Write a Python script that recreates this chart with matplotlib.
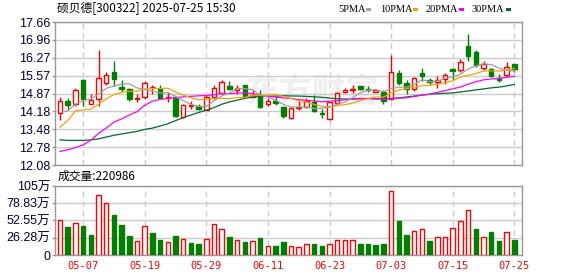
import numpy as np
import matplotlib
matplotlib.use("Agg")
import matplotlib.pyplot as plt
from matplotlib.patches import Rectangle

# ---------------- data ----------------
title = "硕贝德[300322] 2025-07-25 15:30"
dates = ["04-29", "04-30", "05-06", "05-07", "05-08", "05-09", "05-12", "05-13", "05-14", "05-15",
         "05-16", "05-19", "05-20", "05-21", "05-22", "05-23", "05-26", "05-27", "05-28", "05-29",
         "05-30", "06-03", "06-04", "06-05", "06-06", "06-09", "06-10", "06-11", "06-12", "06-13",
         "06-16", "06-17", "06-18", "06-19", "06-20", "06-23", "06-24", "06-25", "06-26", "06-27",
         "06-30", "07-01", "07-02", "07-03", "07-04", "07-07", "07-08", "07-09", "07-10", "07-11",
         "07-14", "07-15", "07-16", "07-17", "07-18", "07-21", "07-22", "07-23", "07-24", "07-25"]
label_dates = ["05-07", "05-19", "05-29", "06-11", "06-23", "07-03", "07-15", "07-25"]

opens = [14.11, 14.59, 14.46, 15.41, 14.45, 14.64, 15.29, 15.69, 15.12, 15.03,
         14.65, 14.72, 15.11, 15.03, 14.69, 14.75, 13.96, 14.37, 14.37, 14.23,
         14.74, 14.88, 15.15, 15.01, 15.22, 14.75, 14.81, 14.46, 14.59, 14.34,
         13.93, 14.30, 14.34, 14.53, 14.11, 13.89, 14.49, 14.94, 15.01, 15.15,
         15.06, 14.94, 14.94, 14.65, 15.67, 15.29, 15.03, 15.67, 15.38, 15.31,
         15.44, 15.82, 15.77, 16.74, 16.49, 15.86, 15.82, 15.49, 15.58, 16.02]
closes = [14.56, 14.44, 15.02, 14.65, 14.61, 15.48, 15.60, 15.45, 15.06, 14.65,
          14.69, 15.29, 15.13, 14.69, 14.73, 13.98, 14.42, 14.41, 14.27, 14.75,
          15.10, 15.32, 15.03, 15.10, 14.78, 14.83, 14.34, 14.59, 14.50, 13.98,
          14.31, 14.35, 14.59, 14.17, 14.06, 14.53, 14.88, 15.02, 15.05, 15.03,
          15.01, 15.00, 14.56, 15.71, 15.29, 15.03, 15.48, 15.54, 15.32, 15.40,
          15.58, 15.73, 16.09, 16.34, 15.98, 16.01, 15.57, 15.41, 15.92, 15.82]
highs = [14.75, 14.69, 15.10, 15.45, 14.84, 16.55, 15.72, 16.15, 15.41, 15.10,
         14.84, 15.35, 15.20, 15.20, 14.93, 14.75, 14.46, 14.59, 14.46, 14.81,
         15.22, 15.38, 15.35, 15.22, 15.22, 15.01, 15.00, 14.69, 14.78, 14.37,
         14.35, 14.59, 14.69, 14.81, 14.27, 14.55, 14.91, 15.10, 15.19, 15.16,
         15.16, 15.06, 15.01, 16.36, 15.79, 15.41, 15.51, 15.86, 15.48, 15.54,
         15.67, 15.88, 16.20, 17.19, 16.58, 16.14, 15.88, 15.63, 16.09, 16.02]
lows = [13.85, 14.23, 14.37, 14.37, 14.45, 14.37, 15.22, 15.16, 14.93, 14.59,
        14.53, 14.65, 14.84, 14.65, 14.53, 13.94, 13.92, 14.27, 14.21, 14.21,
        14.65, 14.84, 15.00, 14.84, 14.75, 14.72, 14.30, 14.40, 14.42, 13.92,
        13.89, 14.21, 14.30, 14.15, 13.92, 13.83, 14.42, 14.88, 14.88, 15.01,
        14.93, 14.93, 14.46, 14.61, 15.22, 14.84, 14.97, 15.35, 15.22, 15.10,
        15.25, 15.39, 15.71, 16.14, 15.92, 15.79, 15.50, 15.31, 15.54, 15.69]
# volume in 万 (10k shares)
volumes = [53.3, 42.6, 48.7, 44.0, 30.4, 91.3, 78.6, 60.9, 45.6, 28.9,
           21.3, 44.0, 34.0, 22.8, 19.3, 28.9, 23.8, 18.3, 16.7, 23.8,
           47.2, 39.0, 27.4, 22.8, 20.3, 21.3, 25.9, 13.2, 13.2, 19.8,
           13.2, 12.2, 16.7, 16.7, 13.7, 16.7, 22.8, 22.8, 22.8, 16.7,
           16.7, 15.2, 16.7, 97.4, 51.7, 30.4, 36.0, 39.0, 21.8, 26.9,
           26.9, 40.6, 51.7, 68.0, 39.6, 26.9, 35.0, 21.8, 35.0, 22.0986]

# moving-average values before a full window is available
ma5_head = [14.12, 14.20, 14.45, 14.60]
ma10_head = [13.56, 13.81, 14.19, 14.23, 14.26, 14.45, 14.66, 14.83, 14.92]
ma20_head = [12.61, 12.67, 12.76, 12.86, 13.05, 13.31, 13.52, 13.75, 13.88, 14.03,
             14.16, 14.41, 14.57, 14.64, 14.68, 14.70, 14.74, 14.76, 14.78]
ma30_head = [13.06, 13.04, 13.04, 13.04, 13.06, 13.10, 13.17, 13.24, 13.29, 13.34,
             13.39, 13.47, 13.52, 13.60, 13.69, 13.81, 13.93, 14.03, 14.13, 14.22,
             14.32, 14.45, 14.54, 14.61, 14.68, 14.73, 14.75, 14.76, 14.77]

price_ticks = [12.08, 12.7775, 13.475, 14.1725, 14.87, 15.5675, 16.265, 16.9625, 17.66]
price_labels = ["12.08", "12.78", "13.48", "14.18", "14.87", "15.57", "16.27", "16.96", "17.66"]
vol_ticks = [0, 26.28, 52.55, 78.83, 105]
vol_labels = ["0", "26.28万", "52.55万", "78.83万", "105万"]

ma_names = ["5PMA", "10PMA", "20PMA", "30PMA"]
ma_colors = ["#a0a0a0", "#f5a300", "#ff00ff", "#006b2d"]

# ---------------- helpers ----------------
def moving_avg(vals, n, head):
    out = list(head)
    for i in range(len(head), len(vals)):
        out.append(float(np.mean(vals[i - n + 1:i + 1])))
    return out

ma5 = moving_avg(closes, 5, ma5_head)
ma10 = moving_avg(closes, 10, ma10_head)
ma20 = moving_avg(closes, 20, ma20_head)
ma30 = moving_avg(closes, 30, ma30_head)

RED = "#ff0000"
GREEN = "#008000"
CJK = ["Noto Sans CJK SC", "DejaVu Sans"]
NUM = ["Liberation Sans", "Noto Sans CJK SC"]

W, H = 578, 276
fig = plt.figure(figsize=(W / 100, H / 100), dpi=100)
fig.patch.set_facecolor("white")

def fx(px):
    return px / W

def fy(py):
    return 1 - py / H

L, R = 55, 522
ax1 = fig.add_axes([fx(L), fy(165), (R - L) / W, (165 - 22) / H])
ax2 = fig.add_axes([fx(L), fy(255), (R - L) / W, (255 - 186) / H])

x = np.arange(len(dates))
label_idx = [dates.index(d) for d in label_dates]

for ax in (ax1, ax2):
    ax.set_xlim(-0.65, 60.0)
    for s in ax.spines.values():
        s.set_color("#999999")
        s.set_linewidth(1)
    ax.set_axisbelow(True)
    ax.yaxis.grid(True, color="#cccccc", linewidth=1, linestyle="-")
    for i in label_idx:
        ax.axvline(i, color="#cccccc", linewidth=1, linestyle=(0, (4, 3)), zorder=0)
    ax.tick_params(axis="y", direction="out", length=2.5, width=1, color="#999999",
                   pad=1, labelsize=9, labelcolor="#000033")

# ---------------- price panel ----------------
ax1.set_ylim(price_ticks[0], price_ticks[-1])
ax1.set_yticks(price_ticks)
ax1.set_yticklabels(price_labels, fontfamily=NUM)
ax1.set_xticks([])

ax1.text(0.55, 0.50, "东方财富", transform=ax1.transAxes, ha="center", va="center",
         fontsize=24, color="#efefef", fontweight="bold", style="italic",
         family=CJK, zorder=0.5)

bw = 0.58
for i in x:
    o, c, h, l = opens[i], closes[i], highs[i], lows[i]
    up = c >= o
    col = RED if up else GREEN
    top, bot = max(o, c), min(o, c)
    ax1.vlines(i, top, h, color=col, linewidth=1, zorder=2)
    ax1.vlines(i, l, bot, color=col, linewidth=1, zorder=2)
    hgt = max(top - bot, 0.012)
    if up:
        ax1.bar(i, hgt, bottom=bot, width=bw, facecolor="white", edgecolor=col,
                linewidth=1, zorder=3)
    else:
        ax1.bar(i, hgt, bottom=bot, width=bw, facecolor=col, edgecolor=col,
                linewidth=1, zorder=3)

for vals, col in zip([ma30, ma20, ma10, ma5], ma_colors[::-1]):
    ax1.plot(x, vals, color=col, linewidth=0.9, zorder=4)

# ---------------- volume panel ----------------
ax2.set_ylim(0, vol_ticks[-1])
ax2.set_yticks(vol_ticks)
ax2.set_yticklabels(vol_labels, fontfamily=NUM)
vol_up = [True] + [closes[i] >= closes[i - 1] for i in range(1, len(closes))]
for i in x:
    if vol_up[i]:
        ax2.bar(i, volumes[i], width=bw, facecolor="white", edgecolor=RED,
                linewidth=1, zorder=3)
    else:
        ax2.bar(i, volumes[i], width=bw, facecolor=GREEN, edgecolor=GREEN,
                linewidth=1, zorder=3)
ax2.set_xticks(label_idx)
ax2.set_xticklabels(label_dates, fontfamily="DejaVu Sans Mono", fontsize=7.5, color=RED)
ax2.tick_params(axis="x", length=0, pad=4)

# ---------------- texts ----------------
fig.text(fx(57), fy(9), title, fontsize=8.5, family=CJK, va="center", ha="left",
         color="#000000")
fig.text(fx(58), fy(176), "成交量:%d" % int(round(volumes[-1] * 10000)), fontsize=8.5,
         family=CJK, va="center", ha="left", color="#000000")

leg_text_x = [338, 380, 426, 472]
leg_sw_x = [366, 413, 459, 506]
for name, col, tx, sx in zip(ma_names, ma_colors, leg_text_x, leg_sw_x):
    fig.text(fx(tx), fy(9), name, fontsize=7.5, family="Liberation Serif",
             va="center", ha="left", color="#000000")
    fig.patches.append(Rectangle((fx(sx), fy(11)), 5 / W, 3 / H, transform=fig.transFigure,
                                 facecolor=col, edgecolor="none"))

fig.savefig("out.png", dpi=100)
